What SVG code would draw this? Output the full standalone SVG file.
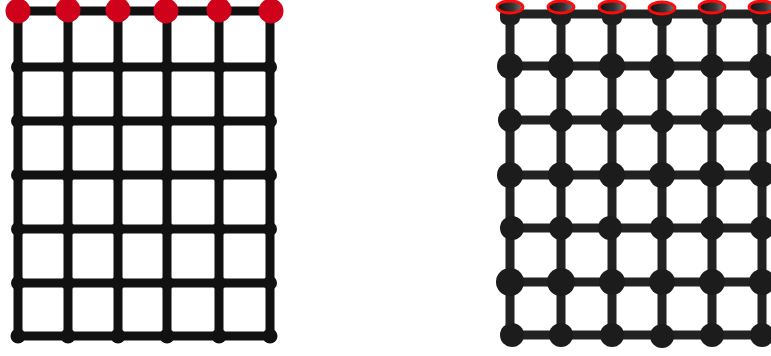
<svg xmlns="http://www.w3.org/2000/svg" width="771" height="356" viewBox="0 0 771 356">
<style>
.lL{stroke:#111;stroke-width:9;stroke-linecap:round;fill:none}
.lR{stroke:#222;stroke-width:9;stroke-linecap:round;fill:none}
.nL{fill:#111}
.rN{fill:#d0021b}
.nR{fill:#1c1c1c}
.ring{fill:url(#rg);stroke:#ff0a0a;stroke-width:2.8}
.body{fill:#1e1e1e}
</style>
<defs>
<linearGradient id="rg" x1="0" y1="0" x2="1" y2="0">
<stop offset="0" stop-color="#111"/><stop offset="0.6" stop-color="#333"/><stop offset="1" stop-color="#777"/>
</linearGradient>
</defs>
<rect width="771" height="356" fill="#fff"/>
<g id="connectors">
<path class="lL" d="M18 11H270M18 67H270M18 121H270M18 175H270M18 229H270M18 283H270M18 336H270"/>
<path class="lL" d="M18 11V336M68 11V336M118 11V336M167 11V336M219 11V336M270 11V336"/>
<path class="lR" d="M510 14H775M510 66H775M510 120H775M510 175H775M510 228H775M510 282H775M510 335H775"/>
<path class="lR" d="M510 10V335M561 10V335M612 10V335M662 10V335M712 10V335M762 10V335"/>
</g>
<g id="left-grid">
<g id="L-r0"><circle class="rN" cx="18" cy="11" r="12.5"/><circle class="rN" cx="68" cy="10" r="12.5"/><circle class="rN" cx="118" cy="10" r="12.5"/><circle class="rN" cx="166" cy="11" r="12.5"/><circle class="rN" cx="219" cy="10" r="12.5"/><circle class="rN" cx="271" cy="11" r="12.5"/></g>
<g id="L-r1"><circle class="nL" cx="18" cy="67" r="7"/><circle class="nL" cx="68" cy="67" r="7"/><circle class="nL" cx="118" cy="67" r="7"/><circle class="nL" cx="167" cy="67" r="7"/><circle class="nL" cx="219" cy="67" r="7"/><circle class="nL" cx="270" cy="67" r="7"/></g>
<g id="L-r2"><circle class="nL" cx="18" cy="121" r="7"/><circle class="nL" cx="68" cy="121" r="7"/><circle class="nL" cx="118" cy="121" r="7"/><circle class="nL" cx="167" cy="121" r="7"/><circle class="nL" cx="219" cy="121" r="7"/><circle class="nL" cx="270" cy="121" r="7"/></g>
<g id="L-r3"><circle class="nL" cx="18" cy="175" r="7"/><circle class="nL" cx="68" cy="175" r="7"/><circle class="nL" cx="118" cy="175" r="7"/><circle class="nL" cx="167" cy="175" r="7"/><circle class="nL" cx="219" cy="175" r="7"/><circle class="nL" cx="270" cy="175" r="7"/></g>
<g id="L-r4"><circle class="nL" cx="18" cy="229" r="7"/><circle class="nL" cx="68" cy="229" r="7"/><circle class="nL" cx="118" cy="229" r="7"/><circle class="nL" cx="167" cy="229" r="7"/><circle class="nL" cx="219" cy="229" r="7"/><circle class="nL" cx="270" cy="229" r="7"/></g>
<g id="L-r5"><circle class="nL" cx="18" cy="283" r="7"/><circle class="nL" cx="68" cy="283" r="7"/><circle class="nL" cx="118" cy="283" r="7"/><circle class="nL" cx="167" cy="283" r="7"/><circle class="nL" cx="219" cy="283" r="7"/><circle class="nL" cx="270" cy="283" r="7"/></g>
<g id="L-r6"><circle class="nL" cx="18" cy="336" r="7.5"/><circle class="nL" cx="68" cy="336" r="7.5"/><circle class="nL" cx="118" cy="336" r="7.5"/><circle class="nL" cx="167" cy="336" r="7.5"/><circle class="nL" cx="219" cy="336" r="7.5"/><circle class="nL" cx="270" cy="336" r="7.5"/></g>
</g>
<g id="right-grid">
<g id="R-r0">
<rect class="body" x="500" y="7" width="20" height="18" rx="7"/><ellipse class="ring" cx="510" cy="7" rx="13" ry="6"/>
<rect class="body" x="551" y="7" width="20" height="18" rx="7"/><ellipse class="ring" cx="561" cy="7" rx="13" ry="6"/>
<rect class="body" x="602" y="7" width="20" height="18" rx="7"/><ellipse class="ring" cx="612" cy="7" rx="13" ry="6"/>
<rect class="body" x="652" y="8" width="20" height="18" rx="7"/><ellipse class="ring" cx="662" cy="8" rx="13" ry="6"/>
<rect class="body" x="702" y="7" width="20" height="18" rx="7"/><ellipse class="ring" cx="712" cy="7" rx="13" ry="6"/>
<rect class="body" x="752" y="7" width="20" height="18" rx="7"/><ellipse class="ring" cx="762" cy="7" rx="13" ry="6"/>
</g>
<g id="R-r1"><circle class="nR" cx="510" cy="66" r="13"/><circle class="nR" cx="561" cy="66" r="13"/><circle class="nR" cx="612" cy="66" r="13"/><circle class="nR" cx="662" cy="67" r="13"/><circle class="nR" cx="712" cy="66" r="12"/><circle class="nR" cx="762" cy="66" r="13"/></g>
<g id="R-r2"><circle class="nR" cx="510" cy="120" r="12"/><circle class="nR" cx="561" cy="120" r="12"/><circle class="nR" cx="612" cy="120" r="12"/><circle class="nR" cx="662" cy="121" r="12"/><circle class="nR" cx="712" cy="120" r="12"/><circle class="nR" cx="762" cy="120" r="12"/></g>
<g id="R-r3"><circle class="nR" cx="510" cy="175" r="13"/><circle class="nR" cx="561" cy="175" r="13"/><circle class="nR" cx="612" cy="175" r="13"/><circle class="nR" cx="662" cy="175" r="13"/><circle class="nR" cx="712" cy="174" r="13"/><circle class="nR" cx="762" cy="174" r="13"/></g>
<g id="R-r4"><circle class="nR" cx="512" cy="228" r="12"/><circle class="nR" cx="561" cy="228" r="12"/><circle class="nR" cx="610" cy="228" r="12"/><circle class="nR" cx="662" cy="228" r="12"/><circle class="nR" cx="712" cy="228" r="12"/><circle class="nR" cx="762" cy="228" r="12"/></g>
<g id="R-r5"><circle class="nR" cx="510" cy="282" r="14"/><circle class="nR" cx="561" cy="282" r="14"/><circle class="nR" cx="612" cy="282" r="13"/><circle class="nR" cx="662" cy="282" r="13"/><circle class="nR" cx="712" cy="282" r="13"/><circle class="nR" cx="762" cy="282" r="13"/></g>
<g id="R-r6"><circle class="nR" cx="512" cy="335" r="12"/><circle class="nR" cx="561" cy="335" r="12"/><circle class="nR" cx="612" cy="335" r="12"/><circle class="nR" cx="662" cy="336" r="12"/><circle class="nR" cx="712" cy="335" r="12"/><circle class="nR" cx="762" cy="335" r="12"/></g>
</g>
</svg>
